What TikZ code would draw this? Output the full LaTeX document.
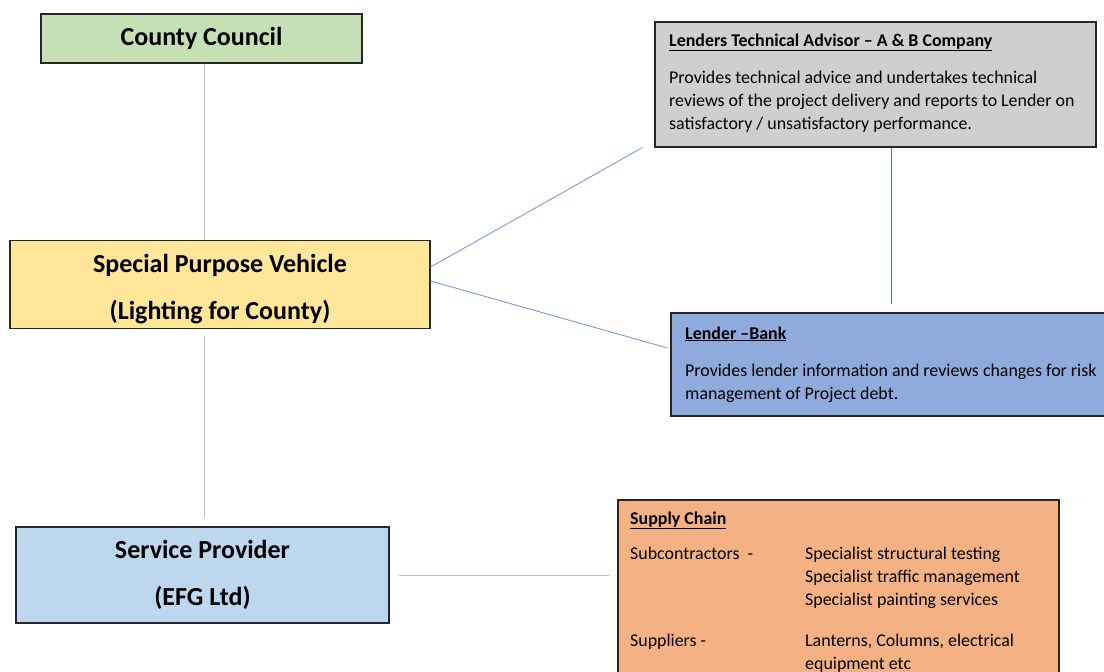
\documentclass[tikz,border=0pt]{standalone}
\usepackage{fontspec}
\setmainfont{Carlito}
\usetikzlibrary{calc}
\definecolor{ink}{HTML}{262626}
\definecolor{councilgreen}{HTML}{C5E0B4}
\definecolor{spvyellow}{HTML}{FFE699}
\definecolor{advisorgrey}{HTML}{D0CECE}
\definecolor{bankblue}{HTML}{8FAADC}
\definecolor{providerblue}{HTML}{BDD7EE}
\definecolor{supplyorange}{HTML}{F4B183}
\definecolor{linkblue}{HTML}{4472C4}
\definecolor{linkmid}{HTML}{7A9CDB}
\definecolor{linklight}{HTML}{A9BFE8}

\begin{document}
\begin{tikzpicture}[x=1pt,y=-1pt,
  box/.style={draw=ink,line width=1.1pt,inner sep=0pt},
  title/.style={font=\bfseries\fontsize{26}{47}\selectfont,align=center},
  head/.style={font=\bfseries\fontsize{17.9}{20}\selectfont,inner sep=0pt},
  body/.style={font=\fontsize{17.9}{23}\selectfont,align=left,inner sep=0pt},
  link/.style={linklight,line width=0.9pt}]
  \useasboundingbox[fill=white] (0,0) rectangle (1104,672);
  % left column
  \node[box,fill=councilgreen,minimum width=321pt,minimum height=49pt,title] (cc) at (201.5,38.5) {County Council};
  \node[box,fill=spvyellow,minimum width=420pt,minimum height=88pt] (spv) at (220,284.5) {};
  \node[title] (spvtext) at ($(spv.center)+(0,4.5)$) {Special Purpose Vehicle\\(Lighting for County)};
  \node[box,fill=providerblue,minimum width=373pt,minimum height=96pt,title] (sp) at (202.5,575) {Service Provider\\(EFG Ltd)};
  % right column
  \node[box,fill=advisorgrey,minimum width=441pt,minimum height=125pt] (ta) at (875.5,84.5) {};
  \node[head,anchor=base west] (tahead) at (669,46) {\underline{Lenders Technical Advisor – A \& B Company}};
  \node[body,anchor=north west] (tabody) at (669,71) {Provides technical advice and undertakes technical\\reviews of the project delivery and reports to Lender on\\satisfactory / unsatisfactory performance.};
  \node[box,fill=bankblue,minimum width=440pt,minimum height=103pt] (bank) at (891,364.5) {};
  \node[head,anchor=base west] (bankhead) at (685,339) {\underline{Lender –Bank}};
  \node[body,anchor=north west] (bankbody) at (685,364) {Provides lender information and reviews changes for risk\\management of Project debt.};
  \node[box,fill=supplyorange,minimum width=441pt,minimum height=190pt] (supply) at (838.5,595) {};
  \node[head,anchor=base west] (supplyhead) at (630,524) {\underline{Supply Chain}};
  \node[body,anchor=north west] (subs) at (630,547) {Subcontractors~~-};
  \node[body,anchor=north west] (subsitems) at (805,547) {Specialist structural testing\\Specialist traffic management\\Specialist painting services};
  \node[body,anchor=north west] (supps) at (630,634) {Suppliers -};
  \node[body,anchor=north west] (suppsitems) at (805,634) {Lanterns, Columns, electrical\\equipment etc};
  % connectors
  \coordinate (ccdrop) at ($(cc.south)+(2.5,0)$);
  \coordinate (spdrop) at ($(sp.north)+(1.5,0)$);
  \coordinate (spvhigh) at ($(spv.east)+(0,-17.5)$);
  \coordinate (spvlow) at ($(spv.east)+(0,-3.5)$);
  \coordinate (taend) at ($(ta.south west)+(-12,0)$);
  \coordinate (bankend) at ($(bank.west)+(-3,-16.5)$);
  \draw[link] (ccdrop) -- (ccdrop |- spv.north);
  \draw[link,shorten <=7pt,shorten >=8pt] (spdrop |- spv.south) -- (spdrop);
  \draw[linkmid,line width=0.9pt] (spvhigh) -- (taend);
  \draw[linkmid,line width=0.9pt] (spvlow) -- (bankend);
  \draw[linkblue,line width=1pt,shorten >=8pt] (bank.north |- ta.south) -- (bank.north);
  \draw[link,shorten <=9pt,shorten >=8pt] (sp.east) -- (sp.east -| supply.west);
\end{tikzpicture}
\end{document}
